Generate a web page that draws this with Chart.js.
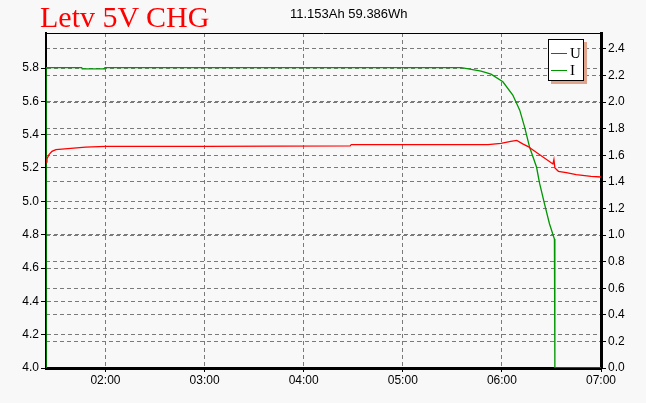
<!DOCTYPE html>
<html>
<head>
<meta charset="utf-8">
<script src="https://cdn.jsdelivr.net/npm/chart.js@4/dist/chart.umd.min.js"></script>
<style>
  html, body { margin: 0; padding: 0; background: #f8f8f8; }
  #wrap { position: relative; width: 646px; height: 403px; }
  #title {
    position: absolute; left: 40px; top: 0px;
    font: 30px "Liberation Serif", "Times New Roman", serif; color: #ff0000;
  }
  #summary {
    position: absolute; left: 290px; top: 6px;
    font: 13px "Liberation Sans", Arial, sans-serif; color: #000;
  }
  #legend {
    position: absolute; left: 548px; top: 39px; width: 36px; height: 42px;
    box-sizing: border-box; padding-top: 5px;
    background: #fff; border: 1px solid #000; box-shadow: 3px 3px 0 #e0a48c;
    font: 15px "Liberation Serif", serif; color: #000;
  }
  #legend .row { display: flex; align-items: center; height: 17px; }
  #legend .swatch { display: block; width: 16px; height: 0; border-top: 1px solid; margin: 0 3px 0 2px; }
</style>
</head>
<body>
<div id="wrap">
  <canvas id="chart" width="646" height="403"></canvas>
  <div id="title">Letv 5V CHG</div>
  <div id="summary">11.153Ah 59.386Wh</div>
  <div id="legend"></div>
</div>
<script>
// Axis ticks
const hourTicks = [2, 3, 4, 5, 6, 7];
const voltTicks = [4.0, 4.2, 4.4, 4.6, 4.8, 5.0, 5.2, 5.4, 5.6, 5.8];
const ampTicks = [0.0, 0.2, 0.4, 0.6, 0.8, 1.0, 1.2, 1.4, 1.6, 1.8, 2.0, 2.2, 2.4];

// Series names / colours
const seriesNames = ['U', 'I'];
const seriesColors = ['#ff0000', '#009600'];

// U (voltage) vs time in hours
const uTime = [1.40, 1.41, 1.43, 1.46, 1.50, 1.65, 1.80, 2.00, 3.00, 4.47, 4.48, 5.86, 5.99, 6.09, 6.15, 6.21, 6.26, 6.40, 6.515, 6.525, 6.535, 6.57, 6.65, 6.75, 6.90, 7.00];
const uVolt = [5.235, 5.255, 5.28, 5.30, 5.31, 5.318, 5.325, 5.33, 5.33, 5.333, 5.34, 5.34, 5.348, 5.36, 5.366, 5.345, 5.33, 5.272, 5.224, 5.25, 5.20, 5.18, 5.172, 5.16, 5.15, 5.146];

// I (current) vs time in hours
const iTime = [1.400, 1.401, 1.76, 1.765, 1.99, 1.995, 5.54, 5.59, 5.79, 5.89, 6.01, 6.11, 6.18, 6.23, 6.28, 6.35, 6.38, 6.43, 6.48, 6.53, 6.534, 6.535, 7.00];
const iAmp = [0, 2.26, 2.26, 2.25, 2.25, 2.26, 2.26, 2.26, 2.234, 2.21, 2.153, 2.053, 1.94, 1.81, 1.66, 1.51, 1.39, 1.235, 1.085, 0.97, 0.97, 0, 0];

const tickFont = { family: '"Liberation Sans", Arial, sans-serif', size: 12 };
const pad2 = n => (n < 10 ? '0' : '') + n;

// thin top border of the plot frame
const frame = {
  id: 'frame',
  afterDraw(chart) {
    const { ctx, chartArea: a } = chart;
    ctx.save();
    ctx.strokeStyle = '#000';
    ctx.lineWidth = 1;
    ctx.beginPath();
    ctx.moveTo(a.left, a.top + 0.5);
    ctx.lineTo(a.right, a.top + 0.5);
    ctx.stroke();
    ctx.restore();
  }
};

function yAxis(position, min, max, ticks, width) {
  return {
    type: 'linear',
    position,
    min, max,
    afterBuildTicks: s => { s.ticks = ticks.map(v => ({ value: v })); },
    afterFit: s => { s.width = width; },
    ticks: {
      color: '#000', font: tickFont, padding: 2,
      callback: v => v.toFixed(1)
    },
    grid: { color: '#7a7a7a', tickColor: '#000', tickLength: 5 },
    border: { color: '#000', width: position === 'left' ? 2 : 3, dash: [4, 3] }
  };
}

new Chart(document.getElementById('chart'), {
  type: 'line',
  data: {
    datasets: [
      {
        label: seriesNames[0],
        data: uTime.map((t, i) => ({ x: t, y: uVolt[i] })),
        borderColor: seriesColors[0],
        borderWidth: 1.3,
        pointRadius: 0,
        yAxisID: 'yU'
      },
      {
        label: seriesNames[1],
        data: iTime.map((t, i) => ({ x: t, y: iAmp[i] })),
        borderColor: seriesColors[1],
        borderWidth: 1.3,
        pointRadius: 0,
        yAxisID: 'yI'
      }
    ]
  },
  options: {
    responsive: false,
    animation: false,
    devicePixelRatio: 1,
    layout: { padding: { top: 33, left: 0, right: 0, bottom: 0 } },
    plugins: { legend: { display: false }, tooltip: { enabled: false } },
    scales: {
      x: {
        type: 'linear',
        min: 1.4, max: 7,
        afterBuildTicks: s => { s.ticks = hourTicks.map(v => ({ value: v })); },
        afterFit: s => { s.height = 35; },
        ticks: {
          color: '#000', font: tickFont, padding: 1, maxRotation: 0,
          callback: v => pad2(v) + ':00'
        },
        grid: { color: '#7a7a7a', tickColor: '#000', tickLength: 4 },
        border: { color: '#000', width: 3, dash: [4, 3] }
      },
      yU: yAxis('left', 4.0, 6.01, voltTicks, 46),
      yI: yAxis('right', 0, 2.52, ampTicks, 45)
    }
  },
  plugins: [frame]
});

// legend box
const legend = document.getElementById('legend');
seriesNames.forEach((name, i) => {
  const row = document.createElement('div');
  row.className = 'row';
  row.innerHTML = '<span class="swatch" style="border-color:' + seriesColors[i] + '"></span><span>' + name + '</span>';
  legend.appendChild(row);
});
</script>
</body>
</html>
